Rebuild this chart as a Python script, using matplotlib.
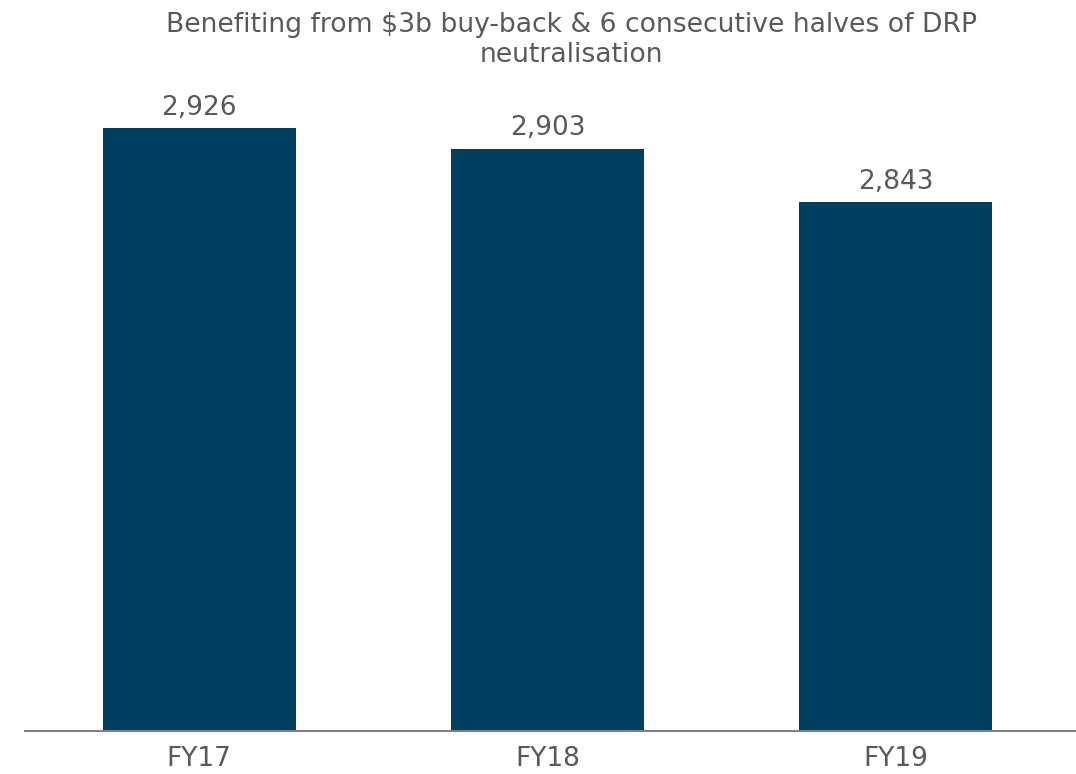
import matplotlib.pyplot as plt

plt.rcParams['font.family'] = ['DejaVu Sans']

# Share count by financial year (millions)
years = ['FY17', 'FY18', 'FY19']
shares = [2926, 2903, 2843]

bar_color = '#003F5F'
text_color = '#595959'

fig = plt.figure(figsize=(10.76, 7.74), dpi=100)
ax = fig.add_axes([25 / 1076, 43 / 774, 1051 / 1076, 669 / 774])

x = range(len(years))
ax.bar(x, shares, width=0.555, color=bar_color)
for xi, v in zip(x, shares):
    ax.text(xi, v + 8, f'{v:,}', ha='center', va='bottom',
            fontsize=19, color=text_color)

ax.set_xlim(-0.5, 2.5 + 6 / 348)
ax.set_ylim(2250, 3000)
ax.set_xticks(list(x))
ax.set_xticklabels(years, fontsize=19, color=text_color)
ax.tick_params(axis='x', length=0, pad=11)
ax.set_yticks([])
for side in ['top', 'right', 'left']:
    ax.spines[side].set_visible(False)
ax.spines['bottom'].set_color('#808080')
ax.spines['bottom'].set_linewidth(1.5)

fig.text(571 / 1076, 1 - 40 / 774,
         'Benefiting from $3b buy-back & 6 consecutive halves of DRP\nneutralisation',
         ha='center', va='center', fontsize=19.2, color=text_color, linespacing=1.2)

fig.savefig('out.png', dpi=100)
